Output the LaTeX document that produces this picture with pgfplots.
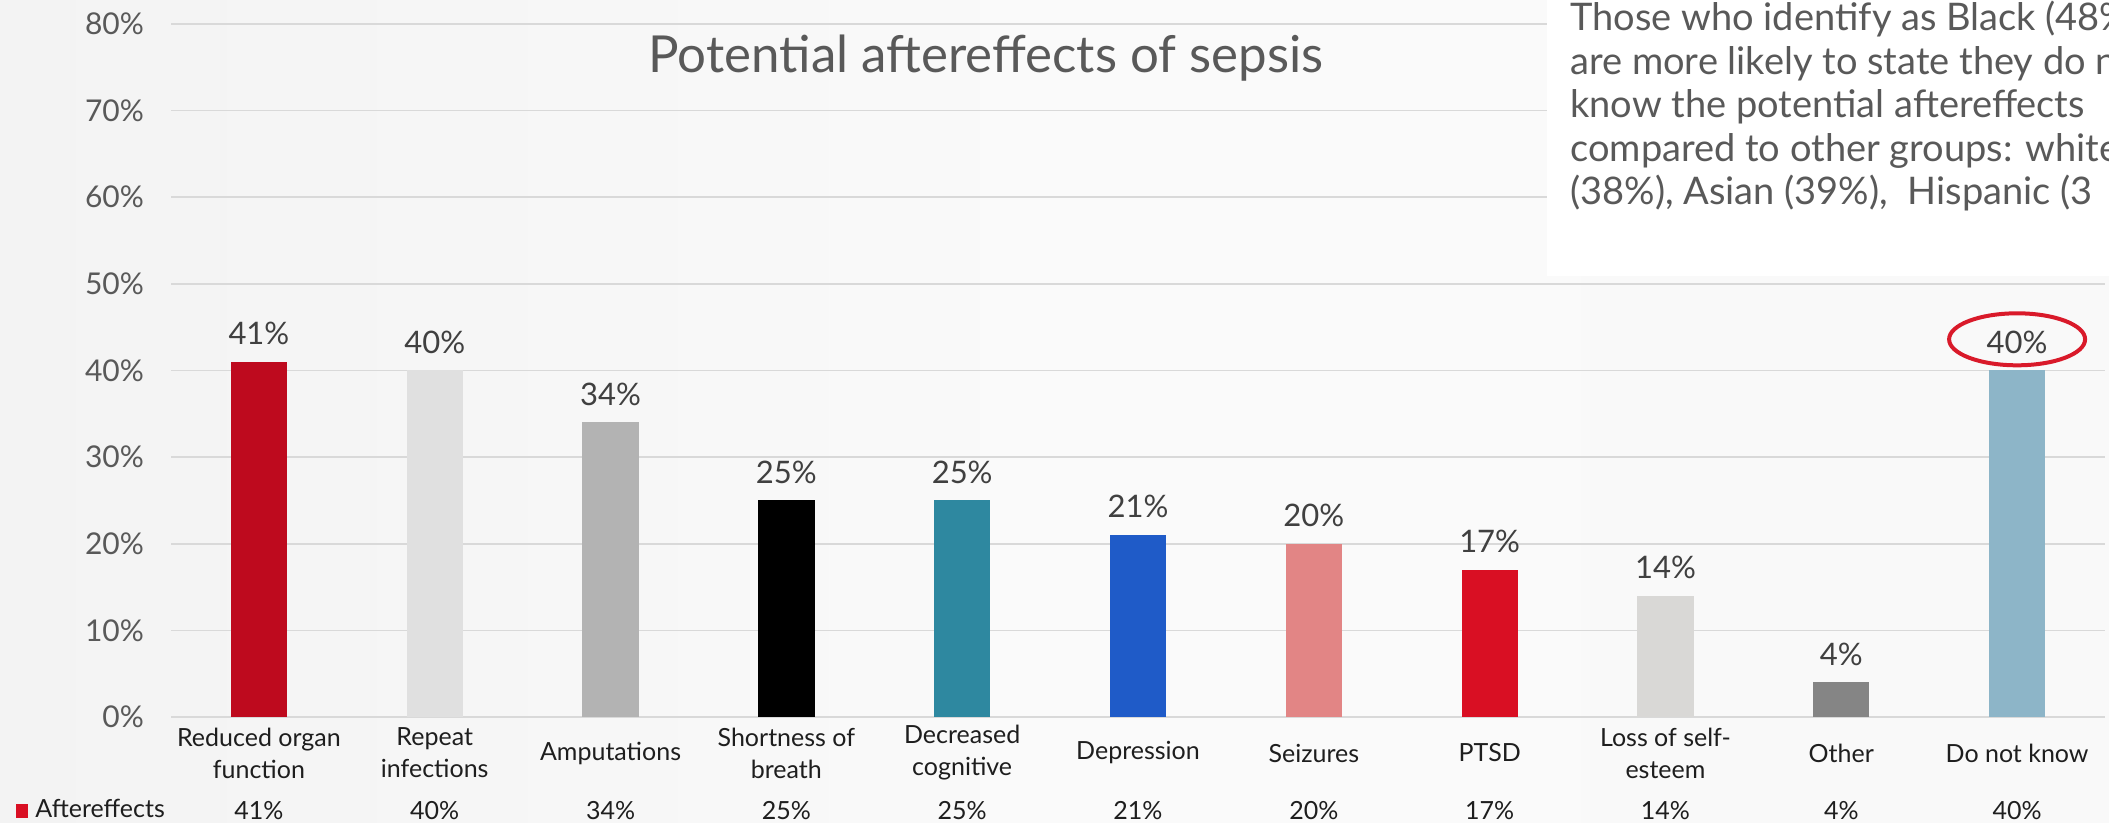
\documentclass[border=0pt]{standalone}
\usepackage{pgfplots}
\usepackage{pgfplotstable}
\pgfplotsset{compat=1.18}
\usepackage{fontspec}
\setmainfont{Lato}
\definecolor{gridc}{RGB}{217,217,217}
\definecolor{tickc}{RGB}{89,89,89}
\definecolor{labc}{RGB}{64,64,64}
\definecolor{catc}{RGB}{30,30,30}
\definecolor{c1}{HTML}{BE0A1E}
\definecolor{c2}{HTML}{E0E0E0}
\definecolor{c3}{HTML}{B3B3B3}
\definecolor{c4}{HTML}{000000}
\definecolor{c5}{HTML}{2E88A0}
\definecolor{c6}{HTML}{1F5BC8}
\definecolor{c7}{HTML}{E28585}
\definecolor{c8}{HTML}{D90F23}
\definecolor{c9}{HTML}{D9D8D6}
\definecolor{c10}{HTML}{858585}
\definecolor{c11}{HTML}{8DB5C8}
\definecolor{ringc}{HTML}{D91A2A}
\pgfplotstableread{
x v
0 41
1 40
2 34
3 25
4 25
5 21
6 20
7 17
8 14
9 4
10 40
}\datatable
\begin{document}
\begin{tikzpicture}[x=1pt,y=1pt]
\useasboundingbox (0,0) rectangle (1054.5,411.5);
\clip (0,0) rectangle (1054.5,411.5);
\shade[left color={rgb,255:red,243;green,243;blue,243}, right color={rgb,255:red,249;green,249;blue,249}, middle color={rgb,255:red,250;green,250;blue,250}] (0,0) rectangle (1054.5,411.5);
\begin{axis}[
  at={(85.5pt,53pt)}, anchor=south west, scale only axis,
  width=967pt, height=346.5pt,
  ybar, bar width=0.32,
  xmin=-0.5, xmax=10.5, ymin=0, ymax=80,
  /pgf/number format/assume math mode=true,
  ytick={0,10,...,80},
  yticklabel={\pgfmathprintnumber{\tick}\%},
  yticklabel style={anchor=east, xshift=-10pt, font=\fontsize{15}{17}\selectfont, text=tickc},
  xtick={0,...,10},
  xticklabels={{Reduced organ\\function},{Repeat\\infections},{Amputations},{Shortness of\\breath},{Decreased\\cognitive},{Depression},{Seizures},{PTSD},{Loss of self-\\esteem},{Other},{Do not know}},
  xticklabel style={anchor=center, yshift=-18pt, align=center, font=\fontsize{12.5}{16}\selectfont, text=catc},
  major tick length=0pt,
  axis line style={draw=none},
  ymajorgrids, grid style={gridc, line width=0.8pt},
  clip=false,
  nodes near coords={\pgfmathprintnumber{\pgfplotspointmeta}\%},
  every node near coord/.append style={font=\fontsize{15.5}{18}\selectfont, text=labc, yshift=5pt},
]
\addplot[fill=c1, draw=none, bar shift=0pt] coordinates {(0,41)};
\addplot[fill=c2, draw=none, bar shift=0pt] coordinates {(1,40)};
\addplot[fill=c3, draw=none, bar shift=0pt] coordinates {(2,34)};
\addplot[fill=c4, draw=none, bar shift=0pt] coordinates {(3,25)};
\addplot[fill=c5, draw=none, bar shift=0pt] coordinates {(4,25)};
\addplot[fill=c6, draw=none, bar shift=0pt] coordinates {(5,21)};
\addplot[fill=c7, draw=none, bar shift=0pt] coordinates {(6,20)};
\addplot[fill=c8, draw=none, bar shift=0pt] coordinates {(7,17)};
\addplot[fill=c9, draw=none, bar shift=0pt] coordinates {(8,14)};
\addplot[fill=c10, draw=none, bar shift=0pt] coordinates {(9,4)};
\addplot[fill=c11, draw=none, bar shift=0pt] coordinates {(10,40)};
% data table row
\addplot[draw=none, fill=none, bar shift=0pt, point meta=explicit,
  every node near coord/.append style={anchor=center, yshift=-5pt, font=\fontsize{12.5}{14}\selectfont, text=catc}]
  table[x=x, y expr=-10.8, meta=v] {\datatable};
\draw[ringc, line width=2pt] (axis cs:10,43.6) ellipse [x radius=34pt, y radius=13pt];
\end{axis}
% annotation box
\fill[white] (773.5,273.5) rectangle (1060,415);
\node[anchor=north west, inner sep=0pt, align=left, text=tickc, font=\fontsize{19}{21.7}\selectfont] at (785,411)
  {Those who identify as Black (48\%)\\are more likely to state they do not\\know the potential aftereffects\\compared to other groups: white\\(38\%), Asian (39\%),\ \ Hispanic (3};
\node[anchor=base, text=tickc, font=\fontsize{25.5}{28}\selectfont] at (493,375) {Potential aftereffects of sepsis};
\fill[c8] (8,2.5) rectangle (14,9.5);
\node[anchor=base west, inner sep=0pt, text=catc, font=\fontsize{12.5}{14}\selectfont] at (17.5,2.5) {Aftereffects};
\end{tikzpicture}
\end{document}
